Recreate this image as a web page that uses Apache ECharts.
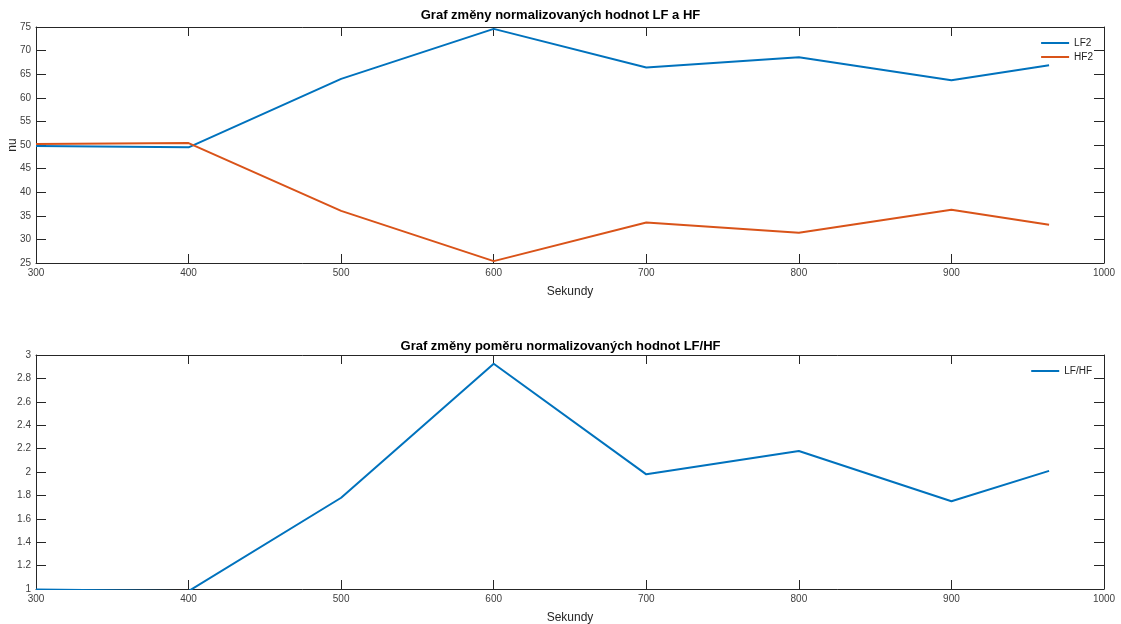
<!DOCTYPE html>
<html><head><meta charset="utf-8">
<script src="https://cdn.jsdelivr.net/npm/echarts@6/dist/echarts.min.js"></script>
<style>html,body{margin:0;padding:0;background:#fff}#c{width:1121px;height:624px}</style>
</head><body><div id="c"></div>
<script>
const seconds = [300, 400, 500, 600, 700, 800, 900, 964];
const lf2 = [49.8, 49.5, 64.0, 74.6, 66.4, 68.6, 63.7, 66.9];
const hf2 = [50.2, 50.4, 36.05, 25.4, 33.6, 31.4, 36.3, 33.1];
const ratio = [0.995, 0.982, 1.78, 2.925, 1.98, 2.18, 1.75, 2.01];
const title1 = 'Graf změny normalizovaných hodnot LF a HF';
const title2 = 'Graf změny poměru normalizovaných hodnot LF/HF';
const xName = 'Sekundy';
const yName1 = 'nu';

const pairs = (ys) => seconds.map((x, i) => [x, ys[i]]);
const FONT = 'Liberation Sans, Arial, Helvetica, sans-serif';
const axisColor = '#262626';
const labelColor = '#404040';
const blue = '#0072BD', orange = '#D95319';

function xAxes(gi) {
  const base = {type: 'value', gridIndex: gi, min: 300, max: 1000, interval: 100,
    axisLine: {show: true, onZero: false, lineStyle: {color: axisColor, width: 1}},
    axisTick: {show: true, inside: true, length: 9, lineStyle: {color: axisColor}},
    splitLine: {show: false}};
  return [
    Object.assign({}, base, {position: 'bottom', name: xName, nameLocation: 'middle', nameGap: 23,
      nameMoveOverlap: false, nameTextStyle: {fontFamily: FONT, fontSize: 12, color: axisColor, verticalAlign: 'top'},
      axisLabel: {fontFamily: FONT, fontSize: 10, color: labelColor, margin: 5, formatter: v => String(v)}}),
    Object.assign({}, base, {position: 'top', axisLabel: {show: false}})
  ];
}
function yAxes(gi, min, max, interval, name) {
  const base = {type: 'value', gridIndex: gi, min: min, max: max, interval: interval,
    axisLine: {show: true, onZero: false, lineStyle: {color: axisColor, width: 1}},
    axisTick: {show: true, inside: true, length: 10, lineStyle: {color: axisColor}},
    splitLine: {show: false}};
  const left = Object.assign({}, base, {position: 'left',
    axisLabel: {fontFamily: FONT, fontSize: 10, color: labelColor, margin: 5, formatter: v => String(+v.toFixed(2))}});
  if (name) {
    Object.assign(left, {name: name, nameLocation: 'middle', nameGap: 17, nameMoveOverlap: false,
      nameTextStyle: {fontFamily: FONT, fontSize: 12, color: axisColor}});
  }
  return [left, Object.assign({}, base, {position: 'right', axisLabel: {show: false}})];
}

const chart = echarts.init(document.getElementById('c'), null, {renderer: 'canvas'});
chart.setOption({
  animation: false,
  backgroundColor: '#fff',
  title: [
    {text: title1, left: 'center', top: 4, textStyle: {fontFamily: FONT, fontSize: 13, fontWeight: 'bold', color: '#000'}},
    {text: title2, left: 'center', top: 335, textStyle: {fontFamily: FONT, fontSize: 13, fontWeight: 'bold', color: '#000'}}
  ],
  grid: [
    {left: 36, right: 17, top: 27, height: 236, containLabel: false, outerBoundsMode: 'none'},
    {left: 36, right: 17, top: 355, height: 234, containLabel: false, outerBoundsMode: 'none'}
  ],
  xAxis: [...xAxes(0), ...xAxes(1)],
  yAxis: [...yAxes(0, 25, 75, 5, yName1), ...yAxes(1, 1, 3, 0.2, null)],
  legend: [
    {data: ['LF2', 'HF2'], orient: 'vertical', right: 23, top: 33, icon: 'rect', itemWidth: 28, itemHeight: 2, itemGap: 4,
     textStyle: {fontFamily: FONT, fontSize: 10, color: '#222'}},
    {data: ['LF/HF'], orient: 'vertical', right: 24, top: 361, icon: 'rect', itemWidth: 28, itemHeight: 2,
     textStyle: {fontFamily: FONT, fontSize: 10, color: '#222'}}
  ],
  series: [
    {name: 'LF2', type: 'line', xAxisIndex: 0, yAxisIndex: 0, data: pairs(lf2), symbol: 'none',
     lineStyle: {color: blue, width: 2}, itemStyle: {color: blue}},
    {name: 'HF2', type: 'line', xAxisIndex: 0, yAxisIndex: 0, data: pairs(hf2), symbol: 'none',
     lineStyle: {color: orange, width: 2}, itemStyle: {color: orange}},
    {name: 'LF/HF', type: 'line', xAxisIndex: 2, yAxisIndex: 2, data: pairs(ratio), symbol: 'none',
     lineStyle: {color: blue, width: 2}, itemStyle: {color: blue}}
  ]
});
</script></body></html>
